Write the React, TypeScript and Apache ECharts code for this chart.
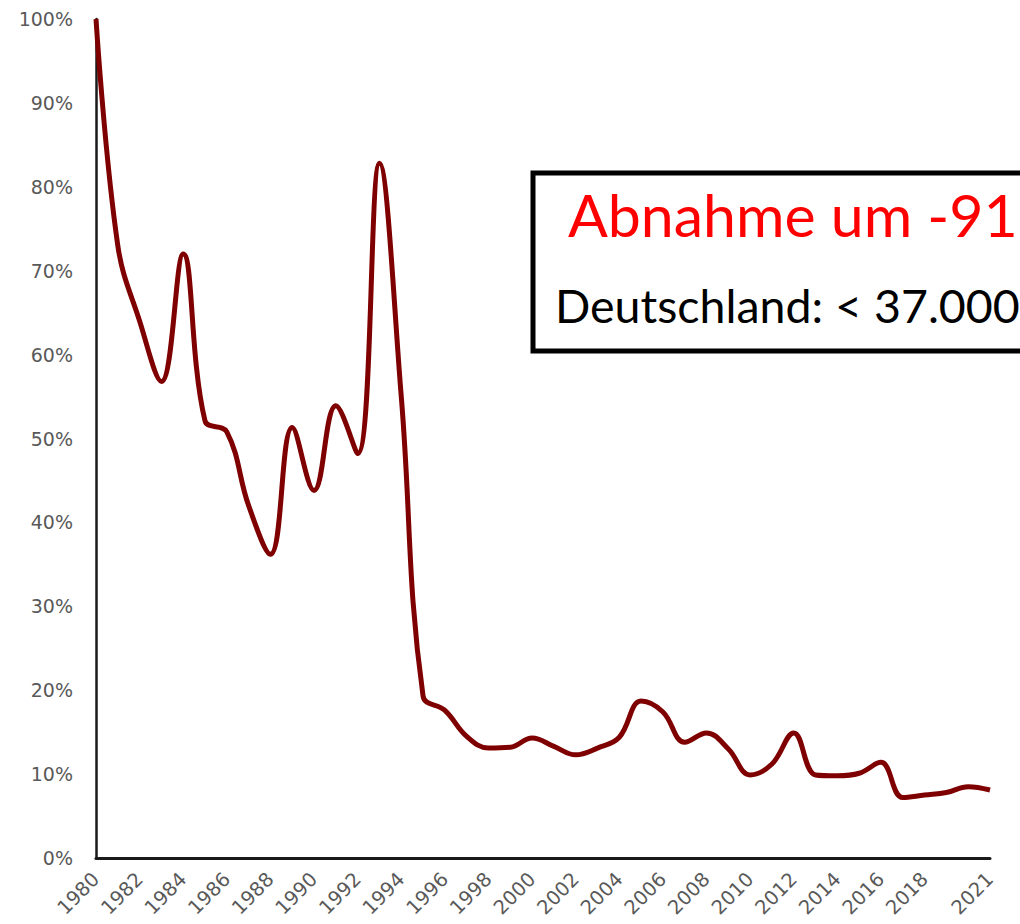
import React, { useEffect, useRef } from "react";
import * as echarts from "echarts";

const years: string[] = [
  "1980","1981","1982","1983","1984","1985","1986","1987","1988","1989",
  "1990","1991","1992","1993","1994","1995","1996","1997","1998","1999",
  "2000","2001","2002","2003","2004","2005","2006","2007","2008","2009",
  "2010","2011","2012","2013","2014","2015","2016","2017","2018","2019",
  "2020","2021",
];

const shares: number[] = [
  100, 73, 64, 56.8, 72, 52.1, 50.8, 42, 36.2, 51.3,
  43.8, 53.9, 48.2, 82.8, 55, 19.3, 17.6, 14.5, 13.1, 13.2,
  14.3, 13.3, 12.3, 13.1, 14.4, 18.7, 17.4, 13.8, 14.9, 13.0,
  9.9, 11.2, 14.9, 9.9, 9.8, 10.1, 11.4, 7.2, 7.5, 7.8,
  8.5, 8.1,
];

const yTicks = { min: 0, max: 100, interval: 10 };

const boxTitle = "Abnahme um -91";
const boxSubtitle = "Deutschland: < 37.000";

export default function App() {
  const ref = useRef<HTMLDivElement>(null);

  useEffect(() => {
    document.body.style.margin = "0";
    if (!ref.current) return;
    const chart = echarts.init(ref.current, undefined, { renderer: "svg" });
    const lastIdx = years.length - 1;
    chart.setOption({
      animation: false,
      backgroundColor: "#ffffff",
      grid: { left: 96, right: 30, top: 19, bottom: 66, containLabel: false },
      xAxis: {
        type: "category",
        data: years,
        boundaryGap: false,
        axisLine: { show: true, lineStyle: { color: "#1a1a1a", width: 3 } },
        axisTick: { show: false },
        splitLine: { show: false },
        axisLabel: {
          rotate: 45,
          margin: 18,
          color: "#595959",
          fontFamily: "DejaVu Sans",
          fontSize: 19.5,
          interval: (index: number, value: string) =>
            index === lastIdx || (index % 2 === 0 && value !== "2020"),
        },
      },
      yAxis: {
        type: "value",
        min: yTicks.min,
        max: yTicks.max,
        interval: yTicks.interval,
        axisLine: { show: true, lineStyle: { color: "#1a1a1a", width: 2.5 } },
        axisTick: { show: false },
        splitLine: { show: false },
        axisLabel: {
          margin: 23,
          color: "#595959",
          fontFamily: "DejaVu Sans",
          fontSize: 19,
          formatter: "{value}%",
        },
      },
      series: [
        {
          type: "line",
          data: shares,
          smooth: 0.4,
          symbol: "none",
          lineStyle: { color: "#7f0000", width: 5 },
          z: 3,
        },
      ],
      graphic: [
        {
          type: "group",
          z: 100,
          children: [
            {
              type: "rect",
              shape: { x: 533, y: 173, width: 600, height: 178 },
              style: { fill: "#ffffff", stroke: "#000000", lineWidth: 5 },
            },
            {
              type: "text",
              x: 568,
              y: 214,
              style: {
                text: boxTitle,
                fill: "#ff0000",
                font: "59px Lato",
                textVerticalAlign: "middle",
                textAlign: "left",
              },
            },
            {
              type: "text",
              x: 555,
              y: 305,
              style: {
                text: boxSubtitle,
                fill: "#000000",
                font: "46.5px Lato",
                textVerticalAlign: "middle",
                textAlign: "left",
              },
            },
          ],
        },
      ],
    });
    return () => chart.dispose();
  }, []);

  return <div ref={ref} style={{ width: 1020, height: 924 }} />;
}
